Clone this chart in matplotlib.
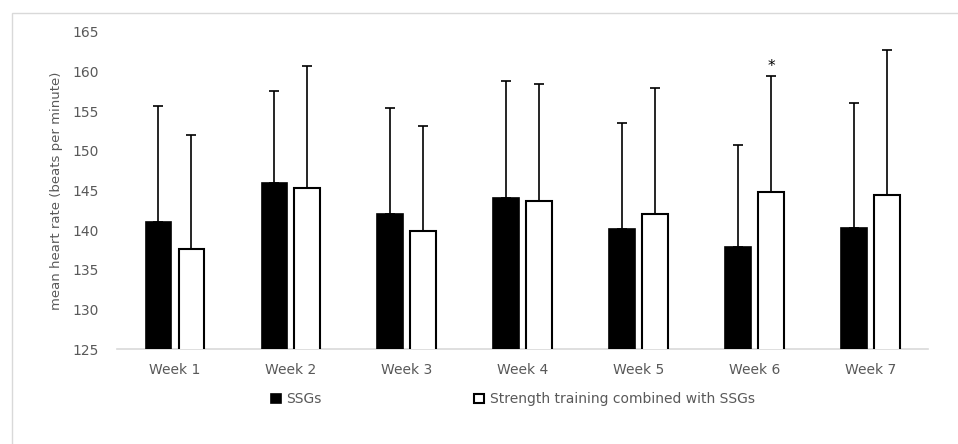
import numpy as np
import matplotlib.pyplot as plt
from matplotlib.patches import Rectangle

weeks = ['Week 1', 'Week 2', 'Week 3', 'Week 4', 'Week 5', 'Week 6', 'Week 7']
ssg_mean = [141.0, 146.0, 142.1, 144.1, 140.2, 137.9, 140.3]
ssg_sd = [14.7, 11.5, 13.3, 14.7, 13.3, 12.9, 15.7]
str_mean = [137.7, 145.3, 139.9, 143.7, 142.1, 144.8, 144.5]
str_sd = [14.3, 15.4, 13.2, 14.8, 15.9, 14.6, 18.2]

grey = '#595959'
plt.rcParams['font.family'] = ['DejaVu Sans']

fig = plt.figure(figsize=(9.58, 4.44), dpi=100)
fig.patches.append(Rectangle((12 / 958, -0.1), 1.0, 1 - 13 / 444 + 0.1,
                             transform=fig.transFigure, fill=False,
                             edgecolor='#d9d9d9', linewidth=1.0))
ax = fig.add_axes([0.122, 0.2133, 0.847, 0.7147])

x = np.arange(len(weeks))
w = 0.22
off = 0.142
err_kw = dict(ecolor='black', elinewidth=1.2, capsize=3.5, capthick=1.2)
zeros = np.zeros(len(weeks))
ax.bar(x - off, ssg_mean, w, color='black', edgecolor='black', linewidth=1.2,
       yerr=[zeros, ssg_sd], error_kw=err_kw, label='SSGs', zorder=3)
ax.bar(x + off, str_mean, w, color='white', edgecolor='black', linewidth=1.5,
       yerr=[zeros, str_sd], error_kw=err_kw,
       label='Strength training combined with SSGs', zorder=3)

# significance mark above week 6
ax.text(x[5] + off, str_mean[5] + str_sd[5] + 0.3, '*', ha='center', va='bottom',
        fontsize=11, color='black')

ax.set_xlim(-0.5, len(weeks) - 0.5)
ax.set_ylim(125, 165)
ax.set_yticks(np.arange(125, 166, 5))
ax.set_xticks(x)
ax.set_xticklabels(weeks)
for s in ['top', 'right', 'left']:
    ax.spines[s].set_visible(False)
ax.spines['bottom'].set_color('#d9d9d9')
ax.spines['bottom'].set_linewidth(1.2)
ax.tick_params(axis='both', length=0, colors=grey, labelsize=10)
ax.tick_params(axis='y', pad=13)
ax.tick_params(axis='x', pad=10)
ax.set_ylabel('mean heart rate (beats per minute)', color=grey, fontsize=9.5, labelpad=7)

ax.legend(loc='center', bbox_to_anchor=(0.488, -0.158), ncol=2, frameon=False,
          fontsize=10, labelcolor=grey, handlelength=0.7, handleheight=0.7,
          handletextpad=0.4, columnspacing=11)

fig.savefig('out.png', dpi=100)
